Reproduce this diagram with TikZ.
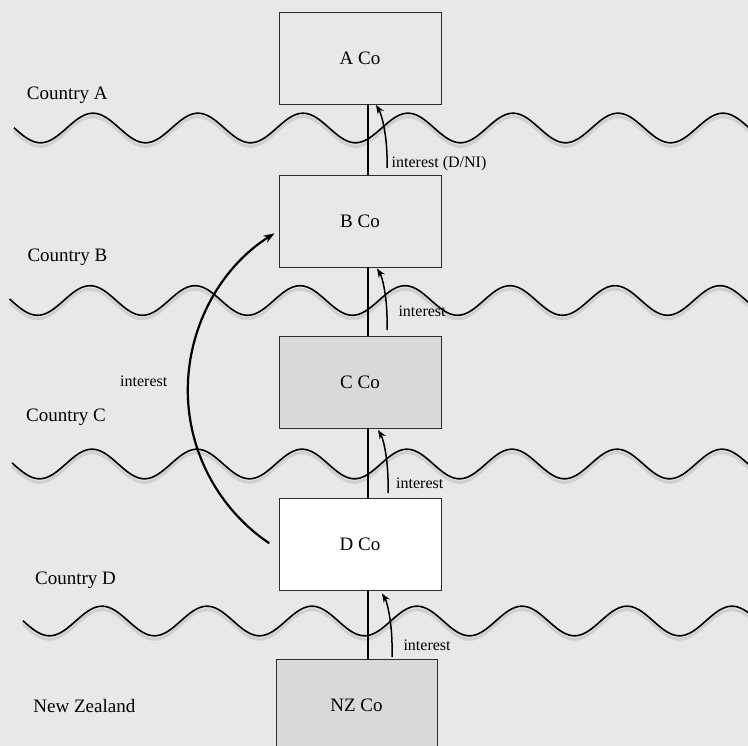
\documentclass[tikz,border=0pt]{standalone}
\usepackage{fontspec}
\setmainfont{Liberation Serif}
\usetikzlibrary{arrows.meta,calc}
\definecolor{bgc}{RGB}{231,232,233}
\definecolor{shade}{RGB}{217,217,217}
\definecolor{shadowc}{RGB}{207,208,209}
\definecolor{edge}{RGB}{45,45,45}
\begin{document}
\begin{tikzpicture}[x=1pt,y=-1pt,
  box/.style={draw=edge, line width=0.9pt, minimum width=162pt, minimum height=92pt, inner sep=0pt, font=\fontsize{19}{22}\selectfont},
  country/.style={anchor=base west, inner sep=0pt, font=\fontsize{19}{22}\selectfont},
  lab/.style={anchor=base west, inner sep=0pt, font=\fontsize{16}{19}\selectfont},
  wave/.style={line width=1.6pt, black},
  waveshadow/.style={line width=3pt, shadowc},
  link/.style={line width=1.4pt},
  flow/.style={line width=1.5pt, -{Stealth[length=9pt,width=7pt]}},
  bigflow/.style={line width=2.2pt, -{Stealth[length=11pt,width=8pt]}}]
\path[use as bounding box] (0,0) rectangle (748,746);
\clip (0,0) rectangle (748,746);
\fill[bgc] (0,0) rectangle (748,746);
% waves
\foreach \wc/\wp/\ws in {128/93/14, 300.5/90/9.5, 464/92/12, 621/102/23} {
  \draw[waveshadow] plot[domain=\ws:752, samples=300, smooth] (\x, {\wc + 3.5 - 14.8*cos(3.428571*(\x-\wp))});
  \draw[wave] plot[domain=\ws:752, samples=300, smooth] (\x, {\wc - 14.8*cos(3.428571*(\x-\wp))});
}
% boxes
\node[box, fill=bgc] (A) at (360,58) {A Co};
\node[box, fill=bgc] (B) at (360,221) {B Co};
\node[box, fill=shade] (C) at (360,382) {C Co};
\node[box, fill=white] (D) at (360,544) {D Co};
\node[box, fill=shade, minimum width=161pt] (NZ) at (356.5,705) {NZ Co};
% vertical links
\coordinate (vl) at (368,0);
\draw[link] (A.south -| vl) -- (B.north -| vl);
\draw[link] (B.south -| vl) -- (C.north -| vl);
\draw[link] (C.south -| vl) -- (D.north -| vl);
\draw[link] (D.south -| vl) -- (NZ.north -| vl);
% small interest arrows
\coordinate (s1) at (387,168);   \coordinate (e1) at (376,105);
\coordinate (s2) at (387,330);   \coordinate (e2) at (377,268.5);
\coordinate (s3) at (388,493);   \coordinate (e3) at (378,430);
\coordinate (s4) at (392,657);   \coordinate (e4) at (382,593.5);
\foreach \i in {1,2,3,4} {
  \draw[flow] (s\i) .. controls ($(s\i)+(1,-33)$) and ($(e\i)+(5,8)$) .. (e\i);
}
% big arc arrow from D to B
\coordinate (arcS) at (269.3,543.3);
\draw[bigflow] (arcS) arc[start angle=124.0, end angle=237.9, radius=184.9];
% country labels
\node[country] (ca) at (26.7,99.3) {Country A};
\node[country] (cb) at (27.3,261.7) {Country B};
\node[country] (cc) at (26,421) {Country C};
\node[country] (cd) at (35,584) {Country D};
\node[country] (cn) at (33.3,712.3) {New Zealand};
% interest labels
\node[lab] (l1) at (391.5,168) {interest (D/NI)};
\node[lab] (l2) at (398.3,316.7) {interest};
\node[lab] (l3) at (396,489) {interest};
\node[lab] (l4) at (403.3,650) {interest};
\node[lab] (l5) at (120,386.7) {interest};
\end{tikzpicture}
\end{document}
